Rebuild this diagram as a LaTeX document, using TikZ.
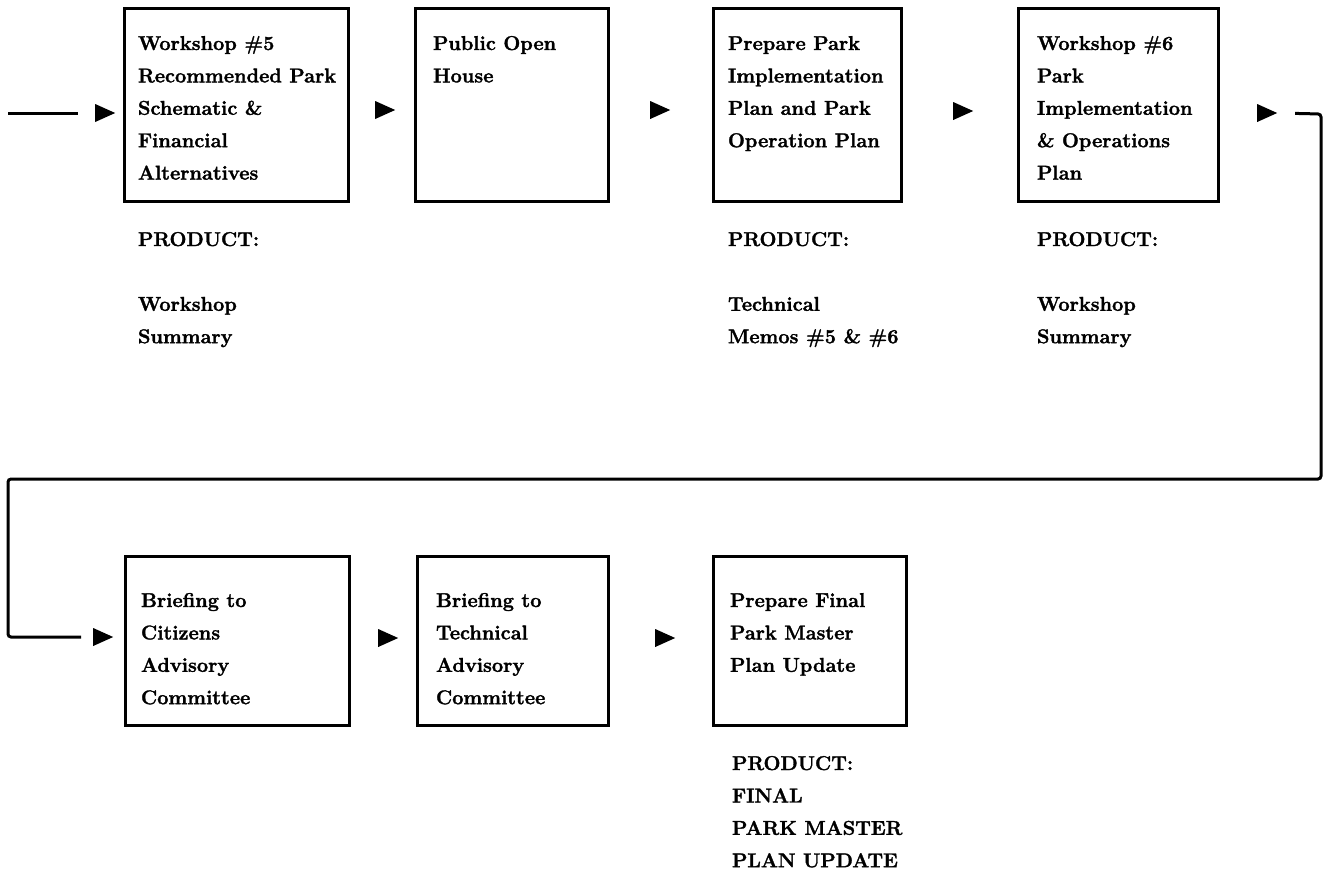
\documentclass[tikz,border=0pt]{standalone}
\usepackage{fontspec}
\setmainfont{Latin Modern Roman}[BoldFeatures={FakeBold=1.6}]
\usetikzlibrary{shapes.geometric}
\newcommand\txtlines[1]{{\fontsize{20}{32.4}\selectfont\bfseries\begin{tabular}[t]{@{}l@{}}#1\end{tabular}}}
\begin{document}
\begin{tikzpicture}[x=1pt,y=-1pt,
  box/.style={draw, line width=3pt, rectangle, inner sep=0pt, outer sep=0pt, anchor=north west},
  txt/.style={anchor=base west, inner sep=0pt, outer sep=0pt},
  tri/.style={isosceles triangle, isosceles triangle stretches, fill=black, draw=none, inner sep=0pt, outer sep=0pt, minimum width=18pt, minimum height=20pt},
  conn/.style={line width=3pt, rounded corners=3pt}]
\useasboundingbox (0,0) rectangle (1330,873);

% top row boxes
\node[box, minimum width=224pt, minimum height=193pt] (b1) at (124,8) {};
\node[box, minimum width=193pt, minimum height=193pt] (b2) at (415,8) {};
\node[box, minimum width=188pt, minimum height=193pt] (b3) at (713,8) {};
\node[box, minimum width=200pt, minimum height=193pt] (b4) at (1018,8) {};
% bottom row boxes
\node[box, minimum width=224pt, minimum height=169pt] (b5) at (125,556) {};
\node[box, minimum width=191pt, minimum height=169pt] (b6) at (417,556) {};
\node[box, minimum width=193pt, minimum height=169pt] (b7) at (713,556) {};

% box texts
\node[txt] (t1) at (138,50) {\txtlines{Workshop \#5\\Recommended Park\\Schematic \&\\Financial\\Alternatives}};
\node[txt] (t2) at (433,50) {\txtlines{Public Open\\House}};
\node[txt] (t3) at (728,50) {\txtlines{Prepare Park\\Implementation\\Plan and Park\\Operation Plan}};
\node[txt] (t4) at (1037,50) {\txtlines{Workshop \#6\\Park\\Implementation\\\& Operations\\Plan}};
\node[txt] (t5) at (141,607) {\txtlines{Briefing to\\Citizens\\Advisory\\Committee}};
\node[txt] (t6) at (436,607) {\txtlines{Briefing to\\Technical\\Advisory\\Committee}};
\node[txt] (t7) at (730,607) {\txtlines{Prepare Final\\Park Master\\Plan Update}};

% products
\node[txt] (p1) at (138,246) {\txtlines{PRODUCT:\\ \\Workshop\\Summary}};
\node[txt] (p3) at (728,246) {\txtlines{PRODUCT:\\ \\Technical\\Memos \#5 \& \#6}};
\node[txt] (p4) at (1037,246) {\txtlines{PRODUCT:\\ \\Workshop\\Summary}};
\node[txt] (p7) at (732,770) {\txtlines{PRODUCT:\\FINAL\\PARK MASTER\\PLAN UPDATE}};

% arrowheads
\node[tri] (a0) at (101,113) {};
\node[tri] (a1) at (381,110) {};
\node[tri] (a2) at (656,110) {};
\node[tri] (a3) at (959,111) {};
\node[tri] (a4) at (1263,113) {};
\node[tri] (a5) at (99,637) {};
\node[tri] (a6) at (384,638) {};
\node[tri] (a7) at (661,638) {};

% connector lines
\coordinate (in) at (8,113);
\coordinate (r1) at (1321,114);
\coordinate (r2) at (1321,479);
\coordinate (r3) at (8,479);
\coordinate (r4) at (8,637);
\draw[conn, shorten >=17pt] (in) -- (a0.west);
\draw[conn, shorten <=18pt, shorten >=12pt] (a4.east) -- (r1) -- (r2) -- (r3) -- (r4) -- (a5.west);
\end{tikzpicture}
\end{document}
